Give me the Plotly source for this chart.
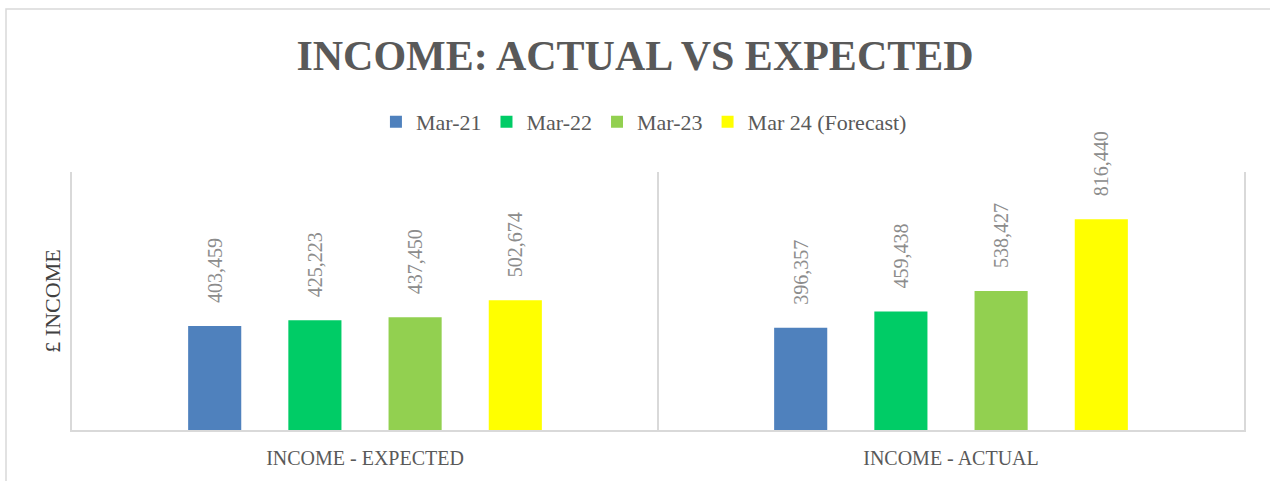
import plotly.graph_objects as go

categories = ["INCOME - EXPECTED", "INCOME - ACTUAL"]
series_names = ["Mar-21", "Mar-22", "Mar-23", "Mar 24 (Forecast)"]
mar21 = [403459, 396357]
mar22 = [425223, 459438]
mar23 = [437450, 538427]
mar24 = [502674, 816440]
colors = ["#4F81BD", "#00CC66", "#92D050", "#FFFF00"]

FONT = "Liberation Serif"
fig = go.Figure()
for name, vals, col in zip(series_names, [mar21, mar22, mar23, mar24], colors):
    fig.add_trace(go.Bar(
        x=categories, y=vals, name=name, marker=dict(color=col, line=dict(width=0)),
        texttemplate="\u00a0\u00a0\u00a0\u00a0%{y:,}", textposition="outside", textangle=-90,
        constraintext="none", cliponaxis=False,
        textfont=dict(family=FONT, size=20, color="#8C8C8C"),
    ))

fig.update_layout(
    width=1270, height=481, autosize=False,
    margin=dict(l=72, r=26, t=172, b=51, autoexpand=False),
    paper_bgcolor="white", plot_bgcolor="white",
    barmode="group", bargap=0.316, bargroupgap=0.47,
    title=dict(text="<b>INCOME: ACTUAL VS EXPECTED</b>", x=0.5, xanchor="center",
               y=1 - 55 / 481, yanchor="middle", yref="container",
               font=dict(family=FONT, size=42, color="#595959")),
    legend=dict(orientation="h", x=0.488, xanchor="center",
                y=1.194, yanchor="middle", font=dict(family=FONT, size=22, color="#595959"),
                traceorder="normal"),
    xaxis=dict(showline=True, linecolor="#D9D9D9", linewidth=1.5, tickson="boundaries",
               showgrid=True, gridcolor="#D9D9D9", gridwidth=1.5, ticks="",
               ticklabelstandoff=9,
               tickfont=dict(family=FONT, size=20, color="#595959")),
    yaxis=dict(range=[0, 1000000], showline=True, mirror=True, linecolor="#D9D9D9", linewidth=1.5,
               showgrid=False, zeroline=False, showticklabels=False, ticks="",
               title=dict(text="£ INCOME", font=dict(family=FONT, size=22, color="#404040"), standoff=4)),
    showlegend=True,
)
fig.add_shape(type="rect", xref="paper", yref="paper",
              x0=(6 - 72) / 1172, x1=(1290 - 72) / 1172, y0=(430 - 500) / 258, y1=(430 - 9) / 258,
              line=dict(color="#D9D9D9", width=1.5), fillcolor="rgba(0,0,0,0)", layer="below")
fig.write_html("out.html", config={"displayModeBar": False},
               post_script="document.body.style.margin='0px';")
